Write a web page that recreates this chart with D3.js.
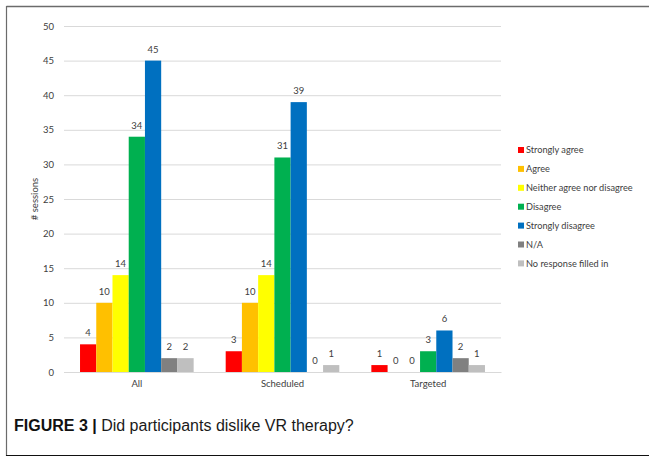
<!DOCTYPE html>
<html>
<head>
<meta charset="utf-8">
<script src="https://cdn.jsdelivr.net/npm/d3@7"></script>
<style>
  html, body { margin: 0; padding: 0; background: #fff; }
  svg { display: block; }
</style>
</head>
<body>
<svg id="chart" width="649" height="457"></svg>
<script>
// Session groups and response categories
const groups = ["All", "Scheduled", "Targeted"];
const responses = ["Strongly agree", "Agree", "Neither agree nor disagree", "Disagree", "Strongly disagree", "N/A", "No response filled in"];
const colors = ["#FF0000", "#FFC000", "#FFFF00", "#00B050", "#0070C0", "#808080", "#BFBFBF"];

// Number of sessions per response, one array per group
const allValues = [4, 10, 14, 34, 45, 2, 2];
const scheduledValues = [3, 10, 14, 31, 39, 0, 1];
const targetedValues = [1, 0, 0, 3, 6, 2, 1];
const yTicks = [0, 5, 10, 15, 20, 25, 30, 35, 40, 45, 50];

const seriesByGroup = [allValues, scheduledValues, targetedValues];

const svg = d3.select("#chart");
const font = "Lato, 'Open Sans', sans-serif";
const textColor = "#404040";

// Figure frame
svg.append("line").attr("x1", 6.5).attr("x2", 649).attr("y1", 6.5).attr("y2", 6.5)
  .attr("stroke", "#6b6b6b").attr("stroke-width", 1.5);
svg.append("line").attr("x1", 6.5).attr("x2", 6.5).attr("y1", 6).attr("y2", 456)
  .attr("stroke", "#6b6b6b").attr("stroke-width", 1.2);
svg.append("line").attr("x1", 6).attr("x2", 649).attr("y1", 455.5).attr("y2", 455.5)
  .attr("stroke", "#111").attr("stroke-width", 1.2);

// Plot area
const plot = { left: 64, right: 501, top: 26, bottom: 372 };

const x0 = d3.scaleBand().domain(groups)
  .range([plot.left, plot.right]).paddingInner(0.22).paddingOuter(0.11);
const x1 = d3.scaleBand().domain(responses).range([0, x0.bandwidth()]);
const y = d3.scaleLinear().domain([0, 50]).range([plot.bottom, plot.top]);

// Gridlines and y tick labels
const yAxis = d3.axisLeft(y).tickValues(yTicks).tickSize(-(plot.right - plot.left)).tickPadding(10);
const gy = svg.append("g").attr("transform", `translate(${plot.left},0)`).call(yAxis);
gy.select(".domain").remove();
gy.selectAll(".tick line").attr("stroke", "#d9d9d9").attr("stroke-width", 1);
gy.selectAll(".tick text").attr("fill", textColor).style("font-family", font).style("font-size", "9.5px");

// Category axis labels
const xAxis = d3.axisBottom(x0).tickSize(0).tickPadding(8);
const gx = svg.append("g").attr("transform", `translate(0,${plot.bottom})`).call(xAxis);
gx.select(".domain").attr("stroke", "#d9d9d9");
gx.selectAll(".tick text").attr("fill", textColor).style("font-family", font).style("font-size", "9.5px");

// Bars and value labels
const groupSel = svg.append("g").selectAll("g").data(groups).join("g")
  .attr("transform", g => `translate(${x0(g)},0)`);

groupSel.each(function (g, gi) {
  const vals = seriesByGroup[gi];
  const sel = d3.select(this);
  const items = responses.map((r, i) => ({ r, v: vals[i], c: colors[i] }));
  sel.selectAll("rect").data(items).join("rect")
    .attr("x", d => x1(d.r))
    .attr("y", d => y(d.v))
    .attr("width", x1.bandwidth())
    .attr("height", d => y(0) - y(d.v))
    .attr("fill", d => d.c);
  sel.selectAll("text").data(items).join("text")
    .attr("x", d => x1(d.r) + x1.bandwidth() / 2)
    .attr("y", d => y(d.v) - 8)
    .attr("text-anchor", "middle")
    .attr("fill", textColor)
    .style("font-family", font).style("font-size", "9.5px")
    .text(d => d.v);
});

// Y axis title
svg.append("text")
  .attr("transform", `translate(38,${(plot.top + plot.bottom) / 2}) rotate(-90)`)
  .attr("text-anchor", "middle")
  .attr("fill", textColor)
  .style("font-family", font).style("font-size", "9.5px")
  .text("# sessions");

// Legend
const legend = svg.append("g").attr("transform", "translate(518,150)");
const rows = legend.selectAll("g").data(responses).join("g")
  .attr("transform", (d, i) => `translate(0,${i * 18.9})`);
rows.append("rect").attr("x", 0).attr("y", -3).attr("width", 6).attr("height", 6)
  .attr("fill", (d, i) => colors[i]);
rows.append("text").attr("x", 8).attr("y", 0).attr("dy", "0.35em")
  .attr("fill", textColor)
  .style("font-family", font).style("font-size", "9.2px")
  .text(d => d);

// Caption
const cap = svg.append("text").attr("x", 14).attr("y", 431)
  .style("font-family", "'Liberation Sans', Arial, sans-serif")
  .style("font-size", "16px").attr("fill", "#1a1a1a");
cap.append("tspan").attr("font-weight", "bold").attr("fill", "#111").text("FIGURE 3 | ");
cap.append("tspan").text("Did participants dislike VR therapy?");
</script>
</body>
</html>
